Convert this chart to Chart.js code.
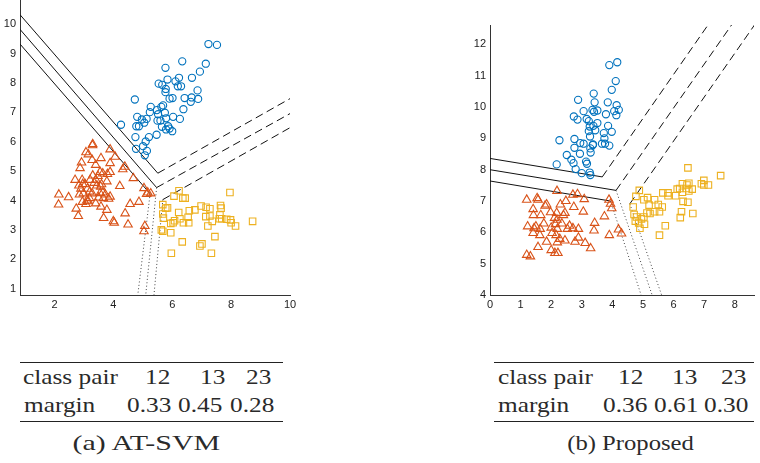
<!DOCTYPE html>
<html>
<head>
<meta charset="utf-8">
<script src="https://cdn.jsdelivr.net/npm/chart.js@4/dist/chart.umd.min.js"></script>
<style>
  html, body { margin:0; padding:0; background:#fff; }
  body { width:760px; height:463px; position:relative; overflow:hidden; }
  .cv { position:absolute; }
  .t { position:absolute; font-family:"Liberation Serif", serif; font-size:22px; color:#2a2a2a;
       transform-origin:0 50%; transform:scaleX(1.15); white-space:nowrap; line-height:22px; }
  .rule { position:absolute; height:0; border-top:1.3px solid #222; }
</style>
</head>
<body>
<canvas id="cA" class="cv" width="300" height="322" style="left:0;top:-10px;"></canvas>
<canvas id="cB" class="cv" width="290" height="312" style="left:470px;top:0;"></canvas>
<div id="tables"></div>
<script>
// ---------------- data : (a) AT-SVM ----------------
const aBlueX = [7.23,7.52,6.34,7.14,5.77,6.94,6.23,6.67,5.84,6.11,5.54,5.66,6.19,6.30,5.78,5.77,6.86,6.66,6.42,5.91,6.01,4.73,6.88,6.63,6.38,5.27,5.63,5.69,5.48,5.24,5.75,5.52,6.03,6.26,4.81,5.79,5.50,5.60,5.13,4.97,4.26,5.05,4.78,4.87,5.86,5.65,5.79,5.91,6.00,5.47,5.21,4.75,5.10,5.01,4.77,5.14,5.07];
const aBlueY = [9.33,9.30,8.74,8.66,8.52,8.39,8.18,8.18,8.12,8.06,7.98,7.94,7.89,7.89,7.80,7.69,7.75,7.51,7.49,7.47,7.49,7.44,7.46,7.36,7.11,7.19,7.19,7.24,7.08,7.01,6.99,6.94,6.85,6.78,6.85,6.80,6.72,6.72,6.78,6.76,6.58,6.65,6.53,6.53,6.53,6.51,6.42,6.45,6.36,6.24,6.16,6.16,6.01,5.85,5.76,5.69,5.54];
const aOrangeX = [3.30,3.29,3.07,3.15,3.89,3.58,4.06,3.28,2.92,3.89,4.39,2.87,3.40,4.32,3.55,3.64,3.89,3.80,3.48,2.70,2.94,3.21,3.41,3.78,4.68,2.96,2.83,3.44,3.12,3.57,4.22,3.64,2.85,2.98,3.28,3.73,3.89,3.19,2.15,2.48,3.66,3.84,5.04,5.17,5.27,5.13,3.15,2.14,3.07,2.74,3.58,3.78,4.57,4.87,4.40,2.81,3.67,4.00,4.03,4.50,5.07,5.04,2.90,3.05,3.20,3.35,3.50,3.60,2.95,3.40,3.55,3.30,3.10];
const aOrangeY = [5.92,5.88,5.64,5.57,5.74,5.44,5.49,5.38,5.29,5.27,5.15,5.10,5.21,5.06,4.97,4.92,4.97,4.90,4.83,4.70,4.70,4.70,4.70,4.65,4.76,4.56,4.51,4.51,4.40,4.47,4.49,4.27,4.20,4.24,4.24,4.20,4.13,4.08,4.20,4.11,4.08,4.06,4.42,4.27,4.24,4.22,3.97,3.86,3.88,3.72,3.79,3.68,3.88,3.95,3.56,3.47,3.40,3.29,3.24,3.18,3.13,2.95,4.40,4.55,4.30,4.60,4.10,4.55,3.95,3.90,4.25,4.85,4.00];
const aYellowX = [7.96,6.23,6.06,6.36,6.44,5.68,5.78,6.22,6.58,6.77,6.98,7.15,7.28,7.64,7.66,5.68,5.70,6.26,6.54,7.14,7.28,7.62,7.60,7.68,7.85,7.98,8.00,8.15,8.73,6.08,6.03,6.38,6.56,7.21,7.36,5.95,5.63,5.68,5.95,7.45,6.34,6.94,7.01,5.97,7.33,5.84];
const aYellowY = [4.27,4.33,4.15,4.08,4.08,3.86,3.74,3.59,3.65,3.68,3.81,3.77,3.72,3.83,3.74,3.54,3.40,3.38,3.43,3.45,3.47,3.51,3.38,3.38,3.36,3.34,3.24,3.13,3.29,3.31,3.24,3.24,3.24,3.13,3.29,3.22,3.00,2.95,2.90,2.77,2.59,2.45,2.52,2.20,2.20,3.75];
// boundary segments [x1, y1, x2, y2]
const aSolid  = [[0.83,10.33,5.51,4.93],[0.83,9.83,5.47,4.44],[0.83,9.33,5.25,4.23]];
const aDashed = [[5.51,4.93,10,7.47],[5.47,4.44,10,6.96],[5.68,4.03,10,6.48]];
const aDotted = [[5.25,4.23,4.83,0.78],[5.47,4.44,5.10,0.78],[5.68,4.03,5.38,0.78]];
const aXTicks = [2,4,6,8,10];
const aYTicks = [1,2,3,4,5,6,7,8,9,10];

// ---------------- data : (b) Proposed ----------------
const bBlueX = [4.16,3.90,4.11,3.98,3.39,2.88,3.42,3.85,4.14,4.21,4.06,3.06,3.35,3.40,3.51,3.79,4.13,2.74,2.86,3.16,3.23,3.51,3.26,3.38,3.86,3.23,3.44,3.72,3.98,3.27,3.74,2.76,2.27,2.95,3.06,3.37,3.66,3.76,3.90,2.76,3.28,3.36,3.29,2.94,2.51,2.66,3.14,2.73,3.17,2.18,2.80,3.00,3.26,3.28];
const bBlueY = [11.43,11.34,10.83,10.55,10.43,10.23,10.15,10.15,10.06,9.91,9.87,9.87,9.91,9.85,9.89,9.77,9.74,9.70,9.60,9.62,9.55,9.49,9.38,9.40,9.40,9.23,9.26,9.17,9.21,9.06,9.00,8.98,8.94,8.85,8.83,8.81,8.83,8.83,8.77,8.70,8.68,8.79,8.55,8.51,8.47,8.32,8.26,8.21,8.19,8.17,8.02,7.89,7.91,7.83];
const bOrangeX = [2.19,1.20,1.54,1.57,2.71,2.86,3.08,3.89,3.94,3.98,1.85,1.80,1.41,2.74,2.30,2.48,1.98,1.42,1.66,2.18,2.40,2.45,3.05,2.11,2.19,3.74,2.14,1.76,1.23,1.50,1.44,1.64,2.00,2.20,2.35,2.53,2.60,2.71,2.89,3.42,3.40,4.20,4.30,3.90,1.41,1.63,2.03,2.28,2.45,2.89,2.16,1.85,2.20,2.78,3.11,1.57,2.00,3.29,2.12,2.22,1.20,1.32];
const bOrangeY = [7.32,7.04,7.09,7.04,7.20,7.22,7.06,7.04,6.91,6.77,6.89,6.85,6.74,6.81,6.89,7.00,6.64,6.55,6.55,6.62,6.55,6.62,6.66,6.46,6.40,6.51,6.26,6.28,6.19,6.19,6.13,6.11,6.15,6.11,6.28,6.11,6.21,6.13,6.11,6.30,6.06,6.09,5.96,5.91,5.98,5.91,5.98,5.79,5.74,5.83,5.91,5.70,5.68,5.70,5.66,5.53,5.43,5.49,5.34,5.34,5.28,5.23];
const bYellowX = [6.47,7.54,6.99,6.91,7.14,6.99,6.50,6.44,6.29,6.20,6.12,6.42,6.61,6.50,6.29,5.82,5.65,5.82,6.07,4.88,6.31,6.47,4.77,5.15,5.03,5.38,5.20,5.63,5.50,5.54,5.38,5.13,5.23,6.26,6.63,6.22,4.68,4.71,4.79,4.75,4.86,5.03,4.95,5.05,4.90,5.73,5.54];
const bYellowY = [8.06,7.81,7.66,7.55,7.51,7.51,7.57,7.51,7.55,7.40,7.38,7.40,7.38,7.32,7.28,7.26,7.26,7.17,7.17,7.34,6.99,6.96,7.15,7.11,7.04,7.04,6.87,6.81,6.89,6.66,6.66,6.62,6.60,6.66,6.60,6.47,6.81,6.57,6.49,6.36,6.30,6.49,6.43,6.26,6.13,6.21,5.91];
const bSolid  = [[0,8.36,3.67,7.77],[0,8.00,4.12,7.34],[0,7.64,3.94,7.00]];
const bDashed = [[3.67,7.77,7.14,12.64],[4.12,7.34,7.91,12.64],[4.57,6.91,8.66,12.64]];
const bDotted = [[3.94,7.00,4.94,4.00],[4.12,7.34,5.30,4.00],[4.57,6.91,5.61,4.00]];
const bXTicks = [0,1,2,3,4,5,6,7,8];
const bYTicks = [4,5,6,7,8,9,10,11,12];

// ---------------- tables ----------------
const tableHead = ["class pair","12","13","23"];
const tableA = ["margin","0.33","0.45","0.28"];
const tableB = ["margin","0.36","0.61","0.30"];
const captions = ["(a) AT-SVM","(b) Proposed"];

// ---------------- drawing ----------------
const BLUE = '#0072BD', ORANGE = '#D95319', YELLOW = '#EDB120';

function pts(xs, ys){ return xs.map((x,i)=>({x:x, y:ys[i]})); }
function scatterSet(xs, ys, color, style, r){
  return { type:'scatter', data:pts(xs,ys), pointStyle:style, pointRadius:r,
           pointBorderColor:color, pointBackgroundColor:'rgba(0,0,0,0)', pointBorderWidth:1.1,
           showLine:false, order:1 };
}
function lineSets(segs, color, dash, width){
  return segs.map(s => ({ type:'scatter', data:[{x:s[0],y:s[1]},{x:s[2],y:s[3]}], showLine:true,
           pointRadius:0, borderColor:color, borderWidth:width, borderDash:dash, fill:false, order:2 }));
}
function axisOpts(min, max, ticksArr, isY, size){
  return {
    type:'linear', min:min, max:max,
    grid:{ display:false, drawTicks:false },
    border:{ display:true, color:'#333', width:1 },
    afterBuildTicks: s => { s.ticks = ticksArr.map(v => ({value:v})); },
    afterFit: s => { if (isY) s.width = size; else s.height = size; },
    ticks:{ autoSkip:false, maxRotation:0, color:'#222', padding: isY ? 4 : 3,
            font:{ family:'"Liberation Sans", Arial, sans-serif', size:11 },
            callback: v => String(v) }
  };
}
function makeChart(id, datasets, xr, yr, xt, yt, padding){
  new Chart(document.getElementById(id), {
    data:{ datasets:datasets },
    options:{
      responsive:false, animation:false, devicePixelRatio:1,
      layout:{ padding:padding },
      plugins:{ legend:{display:false}, tooltip:{enabled:false} },
      scales:{ x:axisOpts(xr[0], xr[1], xt, false, 17), y:axisOpts(yr[0], yr[1], yt, true, 20) }
    }
  });
}

makeChart('cA', [
  ...lineSets(aSolid, '#111', [], 1),
  ...lineSets(aDashed, '#111', [8,4.5], 1),
  ...lineSets(aDotted, '#444', [1,2.4], 1),
  scatterSet(aBlueX, aBlueY, BLUE, 'circle', 3.6),
  scatterSet(aOrangeX, aOrangeY, ORANGE, 'triangle', 4.9),
  scatterSet(aYellowX, aYellowY, YELLOW, 'rect', 4.6)
], [0.83,10], [0.78,10.81], aXTicks, aYTicks, {left:0,right:10,top:10,bottom:0});

makeChart('cB', [
  ...lineSets(bSolid, '#111', [], 1),
  ...lineSets(bDashed, '#111', [8,4.5], 1),
  ...lineSets(bDotted, '#444', [1,2.4], 1),
  scatterSet(bBlueX, bBlueY, BLUE, 'circle', 3.6),
  scatterSet(bOrangeX, bOrangeY, ORANGE, 'triangle', 4.9),
  scatterSet(bYellowX, bYellowY, YELLOW, 'rect', 4.6)
], [0,8.63], [4,12.62], bXTicks, bYTicks, {left:0,right:1,top:25,bottom:0});

// tables (text)
const host = document.getElementById('tables');
function addText(txt, left, cy){
  const d = document.createElement('div'); d.className='t'; d.textContent = txt;
  d.style.left = left+'px'; d.style.top = (cy-11)+'px'; host.appendChild(d);
}
function addRule(left, width, top){
  const d = document.createElement('div'); d.className='rule';
  d.style.left = left+'px'; d.style.width = width+'px'; d.style.top = top+'px'; host.appendChild(d);
}
function addCentered(txt, cx, cy, sx){
  const d = document.createElement('div'); d.className='t'; d.textContent = txt;
  d.style.transformOrigin = '50% 50%'; d.style.transform = 'scaleX(' + sx + ')';
  d.style.left = '0px'; d.style.top = (cy-11)+'px'; host.appendChild(d);
  const w = d.offsetWidth;
  d.style.left = (cx - w/2) + 'px';
}
function table(x0, x1, headX, rowX, head, row, cap, capX, capScale){
  addRule(x0, x1-x0, 362);
  head.forEach((t,i)=>addText(t, headX[i], 377));
  row.forEach((t,i)=>addText(t, rowX[i], 405));
  addRule(x0, x1-x0, 421);
  addCentered(cap, capX, 443, capScale);
}
table(20, 283, [23,145,200,246], [24,127,178,230], tableHead, tableA, captions[0], 146, 1.36);
table(494, 754, [498,618,672,721], [498,603,654,704], tableHead, tableB, captions[1], 630, 1.12);
</script>
</body>
</html>
